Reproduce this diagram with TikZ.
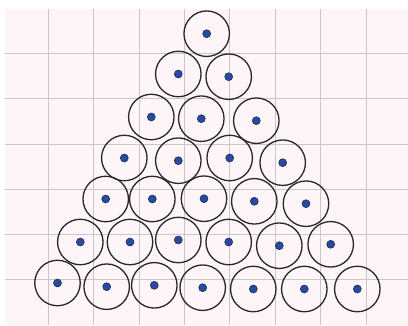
\documentclass[tikz,border=0pt]{standalone}
\definecolor{bgpink}{RGB}{253,245,247}
\definecolor{gridgray}{RGB}{200,198,202}
\definecolor{ringcol}{RGB}{40,40,40}
\definecolor{dotblue}{RGB}{40,75,160}
\definecolor{dotedge}{RGB}{25,35,70}
\begin{document}
\begin{tikzpicture}[x=1pt,y=-1pt,
  ring/.style={circle,draw=ringcol,line width=1.3pt,minimum size=45.5pt,inner sep=0pt},
  pip/.style={circle,fill=dotblue,draw=dotedge,line width=0.5pt,minimum size=8pt,inner sep=0pt},
  gridline/.style={draw=gridgray,line width=1.1pt}]
\useasboundingbox (0,0) rectangle (408,325);
\fill[white] (0,0) rectangle (408,325);
\fill[bgpink] (5,9) rectangle (408,325);
\foreach \k in {0,...,7} {\draw[gridline] ({48.3+45.4*\k},9) -- ({48.3+45.4*\k},325);}
\foreach \k in {0,...,5} {\draw[gridline] (5,{53.7+45.2*\k}) -- (408,{53.7+45.2*\k});}
\foreach \x/\y [count=\i] in {
  206.7/33.7,
  178.3/74, 228.7/76.7,
  151.3/117, 201.3/118.7, 256.3/120.7,
  124.3/158, 178.3/160.7, 229.7/158, 282.7/162.7,
  105.7/199, 152.3/199, 204/198.7, 254.3/201.3, 306/203.7,
  80.3/242, 130/242, 178.3/240, 228.7/242, 279.3/245.7, 330.7/244.3,
  57.5/283, 106.7/286.7, 154.3/285.3, 202.7/287.7, 253.3/289, 304.3/289, 357.3/289} {
  \node[ring] (c\i) at (\x,\y) {};
  \node[pip] (d\i) at (c\i.center) {};
}
\end{tikzpicture}
\end{document}
